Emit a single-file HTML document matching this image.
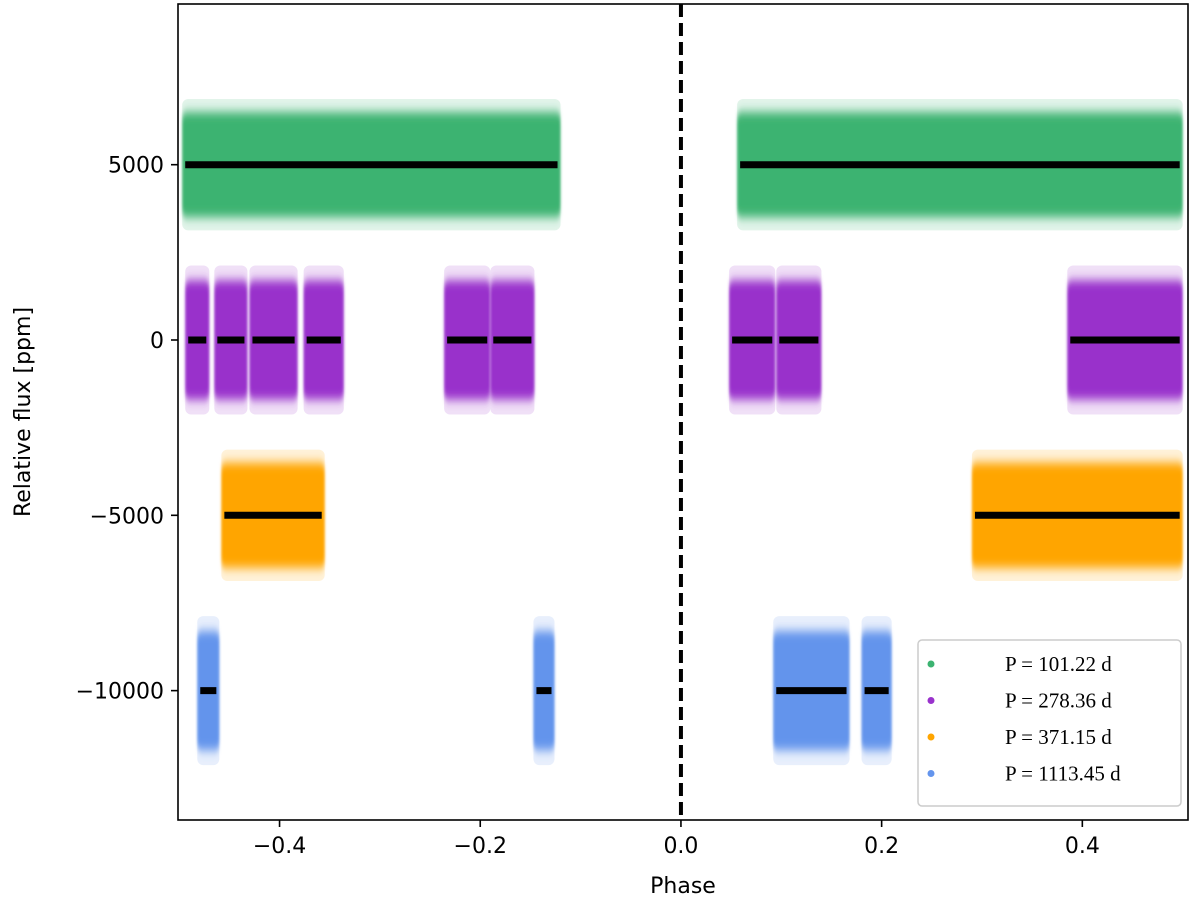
<!DOCTYPE html>
<html><head><meta charset="utf-8"><style>
html,body{margin:0;padding:0;background:#fff;}
svg{display:block;font-family:"DejaVu Sans","Liberation Sans",sans-serif;}
</style></head><body>
<svg id="chart" width="1200" height="903" viewBox="0 0 1200 903">
<defs>
<filter id="soft" x="-10%" y="-20%" width="120%" height="140%"><feGaussianBlur stdDeviation="1.2 5"/></filter>
</defs>
<g id="marks"></g>
<g id="axes"></g>
</svg>
<script>
// data (phase segments, offsets in ppm, spread in ppm)
const seriesNames = ["P = 101.22 d","P = 278.36 d","P = 371.15 d","P = 1113.45 d"];
const seriesColors = ["#3cb371","#9932cc","#ffa500","#6495ed"];
const seriesOffsets = [5000, 0, -5000, -10000];
const seriesSpread = [1500, 1700, 1500, 1700];
const greenSegments = [[-0.497,-0.12],[0.056,0.5]];
const purpleSegments = [[-0.494,-0.47],[-0.465,-0.432],[-0.43,-0.382],[-0.376,-0.336],[-0.236,-0.19],[-0.19,-0.146],[0.048,0.094],[0.095,0.14],[0.385,0.5]];
const orangeSegments = [[-0.458,-0.355],[0.29,0.5]];
const blueSegments = [[-0.482,-0.46],[-0.147,-0.126],[0.092,0.168],[0.18,0.21]];
const allSegments = [greenSegments, purpleSegments, orangeSegments, blueSegments];
const xTicks = [-0.4,-0.2,0.0,0.2,0.4];
const xTickLabels = ["\u22120.4","\u22120.2","0.0","0.2","0.4"];
const yTicks = [5000,0,-5000,-10000];
const yTickLabels = ["5000","0","\u22125000","\u221210000"];

const L=178,R=1188,T=4,B=820;
const xMin=-0.5012,xMax=0.5053,yMin=-13690,yMax=9583;
const X=v=>L+(v-xMin)/(xMax-xMin)*(R-L);
const Y=v=>T+(yMax-v)/(yMax-yMin)*(B-T);
const NS="http://www.w3.org/2000/svg";
function mk(tag,attrs,parent){const e=document.createElementNS(NS,tag);for(const k in attrs)e.setAttribute(k,attrs[k]);parent.appendChild(e);return e;}
const marks=document.getElementById('marks'), axes=document.getElementById('axes');

allSegments.forEach((segs,si)=>{
  const g=mk('g',{},marks);
  
  
  segs.forEach((s,i)=>{
    const x0=X(s[0]),x1=X(s[1]);
    const yt=Y(seriesOffsets[si]+seriesSpread[si]), yb=Y(seriesOffsets[si]-seriesSpread[si]);
    const r=mk('rect',{x:x0,y:yt,width:x1-x0,height:yb-yt,rx:6,fill:seriesColors[si],filter:'url(#soft)'},g);
    
    
    const yt2=Y(seriesOffsets[si]+seriesSpread[si]*1.25), yb2=Y(seriesOffsets[si]-seriesSpread[si]*1.25);
    mk('rect',{x:x0,y:yt2,width:x1-x0,height:yb2-yt2,rx:6,fill:seriesColors[si],opacity:0.15},g);
    const ln=mk('line',{x1:x0+3,x2:x1-3,y1:Y(seriesOffsets[si]),y2:Y(seriesOffsets[si]),stroke:'#000','stroke-width':7},g);
    
    
  });
});

const dz=mk('line',{x1:X(0),x2:X(0),y1:T,y2:B,stroke:'#000','stroke-width':4,'stroke-dasharray':'13,6'},axes);


const fr=mk('rect',{x:L,y:T,width:R-L,height:B-T,fill:'none',stroke:'#000','stroke-width':1.6},axes);



xTicks.forEach((v,i)=>{
  mk('line',{x1:X(v),x2:X(v),y1:B,y2:B+7,stroke:'#000','stroke-width':1.6},axes);
  const t=mk('text',{x:X(v),y:B+33,'text-anchor':'middle','font-size':22},axes);
  t.textContent=xTickLabels[i];
  
  
});
yTicks.forEach((v,i)=>{
  mk('line',{x1:L-7,x2:L,y1:Y(v),y2:Y(v),stroke:'#000','stroke-width':1.6},axes);
  const t=mk('text',{x:L-14,y:Y(v)+8,'text-anchor':'end','font-size':22},axes);
  t.textContent=yTickLabels[i];
  
  
});
const xl=mk('text',{x:(L+R)/2,y:893,'text-anchor':'middle','font-size':22},axes);
xl.textContent='Phase';


const yl=mk('text',{x:0,y:0,'text-anchor':'middle','font-size':22,transform:'translate(30,'+((T+B)/2)+') rotate(-90)'},axes);
yl.textContent='Relative flux [ppm]';



const lg=mk('g',{},axes);


mk('rect',{x:918,y:640,width:263,height:166,rx:4,fill:'#fff',stroke:'#ccc','stroke-width':1.5},lg);
seriesNames.forEach((n,i)=>{
  const y=664+i*36.5;
  const c=mk('circle',{cx:931,cy:y,r:3.5,fill:seriesColors[i]},lg);
  
  
  const t=mk('text',{x:1005,y:y+7,'font-size':21,'font-family':'"Liberation Serif",serif'},lg);
  t.textContent=n;
  
  
});
</script>
</body></html>
